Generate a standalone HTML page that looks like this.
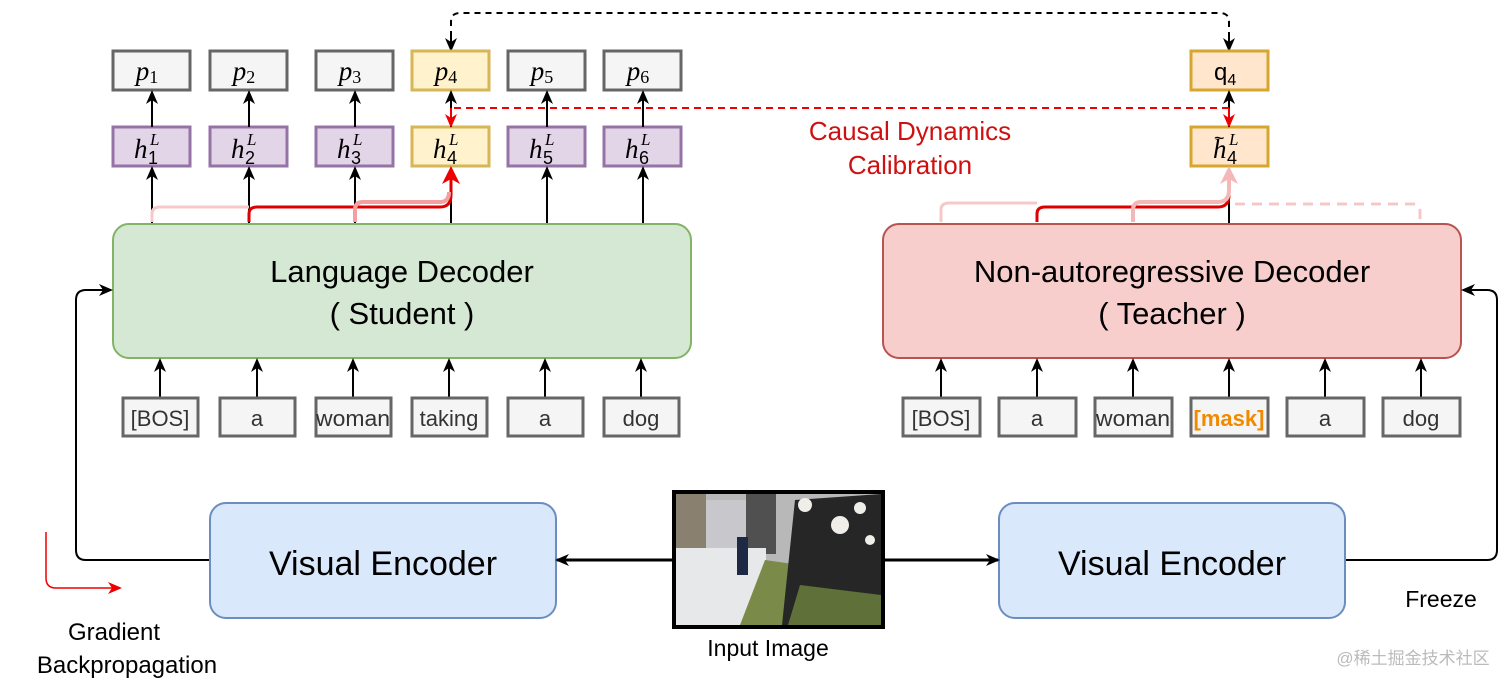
<!DOCTYPE html>
<html><head><meta charset="utf-8"><style>
html,body{margin:0;padding:0;background:#fff;}
svg{display:block;}
text{font-family:"Liberation Sans",sans-serif;}
.m{font-family:"Liberation Serif",serif;font-style:italic;}
</style></head><body>
<svg width="1512" height="684" viewBox="0 0 1512 684" xmlns="http://www.w3.org/2000/svg">
<defs>
<marker id="ab" markerWidth="14" markerHeight="14" refX="12" refY="7" orient="auto" markerUnits="userSpaceOnUse"><path d="M0,1 L14,7 L0,13 L4,7 z" fill="#000"/></marker>
<marker id="ar" markerWidth="14" markerHeight="14" refX="12" refY="7" orient="auto" markerUnits="userSpaceOnUse"><path d="M0,1 L14,7 L0,13 L4,7 z" fill="#e00"/></marker>
<marker id="ap" markerWidth="18" markerHeight="18" refX="14" refY="9" orient="auto" markerUnits="userSpaceOnUse"><path d="M0,0 L18,9 L0,18 L5,9 z" fill="#f5b8b8"/></marker>
<marker id="ar2" markerWidth="18" markerHeight="18" refX="14" refY="9" orient="auto" markerUnits="userSpaceOnUse"><path d="M0,0 L18,9 L0,18 L5,9 z" fill="#e00"/></marker>
</defs>

<path d="M451,48 L451,22 Q451,13 460,13 L1220,13 Q1229,13 1229,22 L1229,48" fill="none" stroke="#000" stroke-width="2" stroke-dasharray="6,5"/>
<line x1="451" y1="36" x2="451" y2="50" stroke="#000" stroke-width="2" marker-end="url(#ab)"/>
<line x1="1229" y1="36" x2="1229" y2="50" stroke="#000" stroke-width="2" marker-end="url(#ab)"/>

<g stroke-width="3">
<rect x="113" y="51" width="77" height="39" fill="#f5f5f5" stroke="#666"/>
<rect x="210" y="51" width="77" height="39" fill="#f5f5f5" stroke="#666"/>
<rect x="316" y="51" width="77" height="39" fill="#f5f5f5" stroke="#666"/>
<rect x="412" y="51" width="77" height="39" fill="#fff2cc" stroke="#d6b656"/>
<rect x="508" y="51" width="77" height="39" fill="#f5f5f5" stroke="#666"/>
<rect x="604" y="51" width="77" height="39" fill="#f5f5f5" stroke="#666"/>
<rect x="113" y="127" width="77" height="39" fill="#e1d5e7" stroke="#9673a6"/>
<rect x="210" y="127" width="77" height="39" fill="#e1d5e7" stroke="#9673a6"/>
<rect x="316" y="127" width="77" height="39" fill="#e1d5e7" stroke="#9673a6"/>
<rect x="412" y="127" width="77" height="39" fill="#fff2cc" stroke="#d6b656"/>
<rect x="508" y="127" width="77" height="39" fill="#e1d5e7" stroke="#9673a6"/>
<rect x="604" y="127" width="77" height="39" fill="#e1d5e7" stroke="#9673a6"/>
<rect x="1191" y="51" width="77" height="39" fill="#ffe6cc" stroke="#d6a630"/>
<rect x="1191" y="127" width="77" height="39" fill="#ffe6cc" stroke="#d6a630"/>
</g>
<g font-size="27" text-anchor="middle">
<text x="147" y="80" class="m">p<tspan font-size="18" font-style="normal" dy="3">1</tspan></text>
<text x="244" y="80" class="m">p<tspan font-size="18" font-style="normal" dy="3">2</tspan></text>
<text x="350" y="80" class="m">p<tspan font-size="18" font-style="normal" dy="3">3</tspan></text>
<text x="446" y="80" class="m">p<tspan font-size="18" font-style="normal" dy="3">4</tspan></text>
<text x="542" y="80" class="m">p<tspan font-size="18" font-style="normal" dy="3">5</tspan></text>
<text x="638" y="80" class="m">p<tspan font-size="18" font-style="normal" dy="3">6</tspan></text>
</g>
<g font-size="27">
<text x="134" y="158" class="m">h</text><text x="150" y="145" class="m" font-size="17">L</text><text x="148" y="164" font-size="18" font-family="Liberation Serif">1</text>
<text x="231" y="158" class="m">h</text><text x="247" y="145" class="m" font-size="17">L</text><text x="245" y="164" font-size="18" font-family="Liberation Serif">2</text>
<text x="337" y="158" class="m">h</text><text x="353" y="145" class="m" font-size="17">L</text><text x="351" y="164" font-size="18" font-family="Liberation Serif">3</text>
<text x="433" y="158" class="m">h</text><text x="449" y="145" class="m" font-size="17">L</text><text x="447" y="164" font-size="18" font-family="Liberation Serif">4</text>
<text x="529" y="158" class="m">h</text><text x="545" y="145" class="m" font-size="17">L</text><text x="543" y="164" font-size="18" font-family="Liberation Serif">5</text>
<text x="625" y="158" class="m">h</text><text x="641" y="145" class="m" font-size="17">L</text><text x="639" y="164" font-size="18" font-family="Liberation Serif">6</text>
<text x="1213" y="158" class="m">h</text><text x="1214" y="144" font-size="18" font-family="Liberation Serif">~</text><text x="1229" y="145" class="m" font-size="17">L</text><text x="1227" y="164" font-size="18" font-family="Liberation Serif">4</text>
<text x="1214" y="80" font-size="24" font-family="Liberation Serif">q<tspan font-size="16" dy="5">4</tspan></text>
</g>

<g stroke="#000" stroke-width="2">
<line x1="152" y1="127" x2="152" y2="92" marker-end="url(#ab)"/>
<line x1="249" y1="127" x2="249" y2="92" marker-end="url(#ab)"/>
<line x1="355" y1="127" x2="355" y2="92" marker-end="url(#ab)"/>
<line x1="451" y1="127" x2="451" y2="92" marker-end="url(#ab)"/>
<line x1="547" y1="127" x2="547" y2="92" marker-end="url(#ab)"/>
<line x1="643" y1="127" x2="643" y2="92" marker-end="url(#ab)"/>
<line x1="1229" y1="127" x2="1229" y2="92" marker-end="url(#ab)"/>
<line x1="152" y1="224" x2="152" y2="168" marker-end="url(#ab)"/>
<line x1="249" y1="224" x2="249" y2="168" marker-end="url(#ab)"/>
<line x1="355" y1="224" x2="355" y2="168" marker-end="url(#ab)"/>
<line x1="451" y1="224" x2="451" y2="190"/>
<line x1="547" y1="224" x2="547" y2="168" marker-end="url(#ab)"/>
<line x1="643" y1="224" x2="643" y2="168" marker-end="url(#ab)"/>
<line x1="1229" y1="224" x2="1229" y2="190"/>
</g>
<path d="M1229,108 L451,108" fill="none" stroke="#e00" stroke-width="2" stroke-dasharray="7,5"/>
<line x1="451" y1="108" x2="451" y2="126" stroke="#e00" stroke-width="2" marker-end="url(#ar)"/>
<line x1="1229" y1="108" x2="1229" y2="126" stroke="#e00" stroke-width="2" marker-end="url(#ar)"/>
<text x="910" y="140" font-size="26" fill="#d01010" text-anchor="middle">Causal Dynamics</text>
<text x="910" y="174" font-size="26" fill="#d01010" text-anchor="middle">Calibration</text>

<path d="M152,222 L152,214 Q152,207 160,207 L249,207" fill="none" stroke="#f7c8c8" stroke-width="3"/>
<path d="M249,222 L249,214 Q249,207 257,207 L440,207 Q451,207 451,195 L451,170" fill="none" stroke="#d00" stroke-width="3" marker-end="url(#ar2)"/>
<path d="M355,222 L355,210 Q355,202 363,202 L440,202 Q449,202 449,192" fill="none" stroke="#f5a0a0" stroke-width="4"/>
<path d="M941,222 L941,210 Q941,203 949,203 L1037,203" fill="none" stroke="#f7c8c8" stroke-width="3"/>
<path d="M1037,222 L1037,214 Q1037,207 1045,207 L1218,207 Q1229,207 1229,195" fill="none" stroke="#d00" stroke-width="3"/>
<path d="M1133,222 L1133,210 Q1133,202 1141,202 L1218,202 Q1229,202 1229,190 L1229,170" fill="none" stroke="#f5b8b8" stroke-width="4" marker-end="url(#ap)"/>
<path d="M1235,204 L1412,204 Q1420,204 1420,212 L1420,222" fill="none" stroke="#f5c8c8" stroke-width="3" stroke-dasharray="10,7"/>

<rect x="113" y="224" width="578" height="134" rx="16" fill="#d5e8d4" stroke="#82b366" stroke-width="2"/>
<text x="402" y="282" font-size="31" text-anchor="middle">Language Decoder</text>
<text x="402" y="324" font-size="31" text-anchor="middle">( Student )</text>
<rect x="883" y="224" width="578" height="134" rx="16" fill="#f8cecc" stroke="#b85450" stroke-width="2"/>
<text x="1172" y="282" font-size="31" text-anchor="middle">Non-autoregressive Decoder</text>
<text x="1172" y="324" font-size="31" text-anchor="middle">( Teacher )</text>

<g stroke="#000" stroke-width="2">
<line x1="160" y1="397" x2="160" y2="360" marker-end="url(#ab)"/>
<line x1="257" y1="397" x2="257" y2="360" marker-end="url(#ab)"/>
<line x1="353" y1="397" x2="353" y2="360" marker-end="url(#ab)"/>
<line x1="449" y1="397" x2="449" y2="360" marker-end="url(#ab)"/>
<line x1="545" y1="397" x2="545" y2="360" marker-end="url(#ab)"/>
<line x1="641" y1="397" x2="641" y2="360" marker-end="url(#ab)"/>
<line x1="941" y1="397" x2="941" y2="360" marker-end="url(#ab)"/>
<line x1="1037" y1="397" x2="1037" y2="360" marker-end="url(#ab)"/>
<line x1="1133" y1="397" x2="1133" y2="360" marker-end="url(#ab)"/>
<line x1="1229" y1="397" x2="1229" y2="360" marker-end="url(#ab)"/>
<line x1="1325" y1="397" x2="1325" y2="360" marker-end="url(#ab)"/>
<line x1="1421" y1="397" x2="1421" y2="360" marker-end="url(#ab)"/>
</g>
<g fill="#f5f5f5" stroke="#666" stroke-width="3">
<rect x="123" y="398" width="75" height="38"/><rect x="220" y="398" width="75" height="38"/>
<rect x="316" y="398" width="75" height="38"/><rect x="412" y="398" width="75" height="38"/>
<rect x="508" y="398" width="75" height="38"/><rect x="604" y="398" width="75" height="38"/>
<rect x="903" y="398" width="77" height="38"/><rect x="999" y="398" width="77" height="38"/>
<rect x="1095" y="398" width="77" height="38"/><rect x="1191" y="398" width="77" height="38"/>
<rect x="1287" y="398" width="77" height="38"/><rect x="1383" y="398" width="77" height="38"/>
</g>
<g font-size="22" fill="#333" text-anchor="middle">
<text x="160" y="426">[BOS]</text><text x="257" y="426">a</text><text x="353" y="426" textLength="74" lengthAdjust="spacingAndGlyphs">woman</text>
<text x="449" y="426">taking</text><text x="545" y="426">a</text><text x="641" y="426">dog</text>
<text x="941" y="426">[BOS]</text><text x="1037" y="426">a</text><text x="1133" y="426" textLength="74" lengthAdjust="spacingAndGlyphs">woman</text>
<text x="1229" y="426" fill="#f08a00" font-weight="bold">[mask]</text><text x="1325" y="426">a</text><text x="1421" y="426">dog</text>
</g>

<path d="M210,560 L86,560 Q76,560 76,550 L76,300 Q76,290 86,290 L111,290" fill="none" stroke="#000" stroke-width="2" marker-end="url(#ab)"/>
<path d="M1345,560 L1487,560 Q1497,560 1497,550 L1497,300 Q1497,290 1487,290 L1463,290" fill="none" stroke="#000" stroke-width="2" marker-end="url(#ab)"/>

<rect x="210" y="503" width="346" height="115" rx="16" fill="#dae8fc" stroke="#6c8ebf" stroke-width="2"/>
<text x="383" y="575" font-size="34" text-anchor="middle">Visual Encoder</text>
<rect x="999" y="503" width="346" height="115" rx="16" fill="#dae8fc" stroke="#6c8ebf" stroke-width="2"/>
<text x="1172" y="575" font-size="34" text-anchor="middle">Visual Encoder</text>

<line x1="672" y1="560" x2="557" y2="560" stroke="#000" stroke-width="3" marker-end="url(#ab)"/>
<line x1="884" y1="560" x2="998" y2="560" stroke="#000" stroke-width="3" marker-end="url(#ab)"/>

<rect x="672" y="490" width="213" height="139" fill="#000"/>
<rect x="676" y="494" width="205" height="131" fill="#b8b8b8"/>
<rect x="676" y="494" width="30" height="60" fill="#8a8070"/>
<rect x="706" y="500" width="40" height="50" fill="#c8c8cc"/>
<rect x="746" y="494" width="30" height="60" fill="#505050"/>
<rect x="676" y="548" width="90" height="77" fill="#e6e8ea"/>
<polygon points="740,625 765,560 800,565 790,625" fill="#7a8a48"/>
<polygon points="782,625 795,500 881,494 881,625" fill="#262626"/>
<polygon points="788,625 800,585 881,595 881,625" fill="#5f7038"/>
<rect x="737" y="537" width="11" height="38" fill="#1e2a44"/>
<circle cx="805" cy="505" r="7" fill="#f0eee8"/><circle cx="840" cy="525" r="9" fill="#f0eee8"/><circle cx="860" cy="508" r="6" fill="#f0eee8"/><circle cx="870" cy="540" r="5" fill="#f0eee8"/>
<text x="768" y="656" font-size="23" text-anchor="middle">Input Image</text>

<path d="M46,532 L46,578 Q46,588 56,588 L120,588" fill="none" stroke="#e00" stroke-width="1.5" marker-end="url(#ar)"/>
<text x="114" y="640" font-size="24" text-anchor="middle">Gradient</text>
<text x="127" y="673" font-size="24" text-anchor="middle">Backpropagation</text>
<text x="1441" y="607" font-size="23" text-anchor="middle">Freeze</text>
<text x="1413" y="664" font-size="17" fill="#bbb" text-anchor="middle" font-family="Liberation Sans, Noto Sans CJK SC, sans-serif">@稀土掘金技术社区</text>
</svg>
</body></html>
